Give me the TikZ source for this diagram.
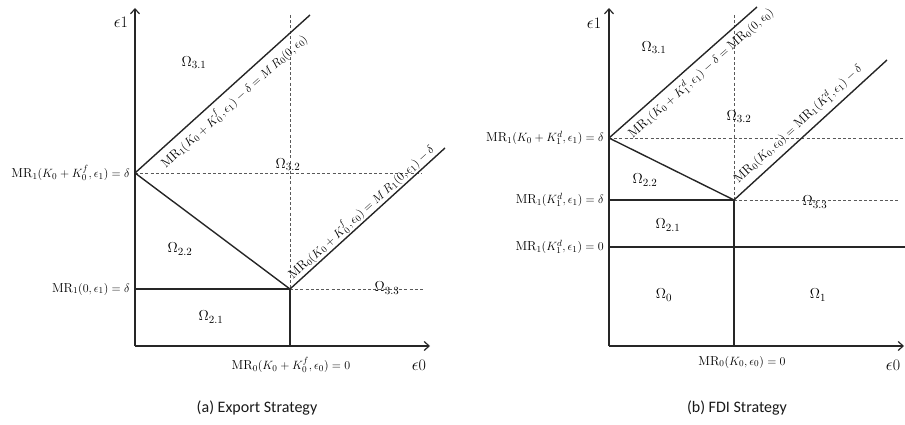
\documentclass[tikz,border=0pt]{standalone}
\usepackage{fontspec}
\newfontfamily\capfont{Carlito}
\usetikzlibrary{arrows.meta}
\begin{document}
\begin{tikzpicture}[x=1pt,y=-1pt,
  solidln/.style={draw=black!85,line width=1.4pt},
  axisln/.style={draw=black!85,line width=1.4pt,-{Straight Barb[length=5pt,width=9pt,line width=1.2pt]}},
  dashln/.style={draw=black!65,line width=0.75pt,dash pattern=on 3pt off 2.2pt},
  mlab/.style={font=\fontsize{13}{15}\selectfont,inner sep=0pt,text=black},
  omlab/.style={font=\fontsize{15}{17}\selectfont,inner sep=0pt,text=black},
  axlab/.style={font=\fontsize{16}{18}\selectfont,inner sep=0pt,text=black},
  caplab/.style={font=\capfont\fontsize{16}{19}\selectfont,inner sep=0pt,text=black!90}]
\useasboundingbox (0,0) rectangle (905,425);
% ---------------- (a) Export Strategy ----------------
\coordinate (O) at (135,346);
\coordinate (Ytop) at (135,8);
\coordinate (Xend) at (430,346);
\coordinate (A) at (135,173);
\coordinate (B) at (290,289);
\coordinate (Aend) at (310,15);
\coordinate (Bend) at (445,148);
\coordinate (Vtop) at (290,15);
\coordinate (Hr) at (422,173);
\coordinate (Br) at (425,289);
\coordinate (Bbot) at (290,346);
\coordinate (Ll) at (135,289);
\draw[dashln] (Vtop) -- (B);
\draw[dashln] (A) -- (Hr);
\draw[dashln] (B) -- (Br);
\draw[solidln] (A) -- (Aend);
\draw[solidln] (A) -- (B);
\draw[solidln] (B) -- (Bend);
\draw[solidln] (Ll) -- (B);
\draw[solidln] (B) -- (Bbot);
\draw[axisln] (O) -- (Ytop);
\draw[axisln] (O) -- (Xend);
\node[axlab] (e1a) at (121,22) {$\epsilon$1};
\node[axlab] (e0a) at (419,365) {$\epsilon$0};
\node[mlab,anchor=east] (ya1) at (130,173) {$\mathrm{MR}_1(K_0+K_0^f,\epsilon_1)=\delta$};
\node[mlab,anchor=east] (ya2) at (130,289) {$\mathrm{MR}_1(0,\epsilon_1)=\delta$};
\node[mlab] (xa1) at (291,365) {$\mathrm{MR}_0(K_0+K_0^f,\epsilon_0)=0$};
\node[mlab,rotate=42.1] (da1) at (234,101) {$\mathrm{MR}_1(K_0+K_0^f,\epsilon_1)-\delta=M\,R_0(0,\epsilon_0)$};
\node[mlab,rotate=42.3] (da2) at (361,212) {$\mathrm{MR}_0(K_0+K_0^f,\epsilon_0)=M\,R_1(0,\epsilon_1)-\delta$};
\node[omlab] (a31) at (194,63) {$\Omega_{3.1}$};
\node[omlab] (a32) at (288,165) {$\Omega_{3.2}$};
\node[omlab] (a22) at (180,249) {$\Omega_{2.2}$};
\node[omlab] (a21) at (211,317) {$\Omega_{2.1}$};
\node[omlab] (a33) at (387,288) {$\Omega_{3.3}$};
\node[caplab] (capa) at (257,408) {(a) Export Strategy};
% ---------------- (b) FDI Strategy ----------------
\coordinate (P) at (609,346);
\coordinate (Ptop) at (609,8);
\coordinate (Pend) at (904,346);
\coordinate (C) at (609,138);
\coordinate (D) at (734,200);
\coordinate (Cend) at (757,7);
\coordinate (Dend) at (887,60);
\coordinate (Wtop) at (734,15);
\coordinate (Cr) at (905,138);
\coordinate (Dr) at (900,200);
\coordinate (Dl) at (609,200);
\coordinate (Dbot) at (734,346);
\coordinate (El) at (609,247);
\coordinate (Er) at (905,247);
\draw[dashln] (Wtop) -- (D);
\draw[dashln] (C) -- (Cr);
\draw[dashln] (D) -- (Dr);
\draw[solidln] (C) -- (Cend);
\draw[solidln] (C) -- (D);
\draw[solidln] (D) -- (Dend);
\draw[solidln] (Dl) -- (D);
\draw[solidln] (D) -- (Dbot);
\draw[solidln] (El) -- (Er);
\draw[axisln] (P) -- (Ptop);
\draw[axisln] (P) -- (Pend);
\node[axlab] (e1b) at (594,23) {$\epsilon$1};
\node[axlab] (e0b) at (893,365) {$\epsilon$0};
\node[mlab,anchor=east] (yb1) at (604,138) {$\mathrm{MR}_1(K_0+K_1^d,\epsilon_1)=\delta$};
\node[mlab,anchor=east] (yb2) at (604,200) {$\mathrm{MR}_1(K_1^d,\epsilon_1)=\delta$};
\node[mlab,anchor=east] (yb3) at (604,247) {$\mathrm{MR}_1(K_1^d,\epsilon_1)=0$};
\node[mlab] (xb1) at (742,362) {$\mathrm{MR}_0(K_0,\epsilon_0)=0$};
\node[mlab,rotate=41.5] (db1) at (701,73) {$\mathrm{MR}_1(K_0+K_1^d,\epsilon_1)-\delta=\mathrm{MR}_0(0,\epsilon_0)$};
\node[mlab,rotate=42.5] (db2) at (798,124) {$\mathrm{MR}_0(K_0,\epsilon_0)=\mathrm{MR}_1(K_1^d,\epsilon_1)-\delta$};
\node[omlab] (b31) at (654,48) {$\Omega_{3.1}$};
\node[omlab] (b32) at (739,117) {$\Omega_{3.2}$};
\node[omlab] (b22) at (645,180) {$\Omega_{2.2}$};
\node[omlab] (b33) at (815,202) {$\Omega_{3.3}$};
\node[omlab] (b21) at (668,225) {$\Omega_{2.1}$};
\node[omlab] (b0) at (664,295) {$\Omega_0$};
\node[omlab] (b1) at (818,295) {$\Omega_1$};
\node[caplab] (capb) at (737,408) {(b) FDI Strategy};
\end{tikzpicture}
\end{document}
